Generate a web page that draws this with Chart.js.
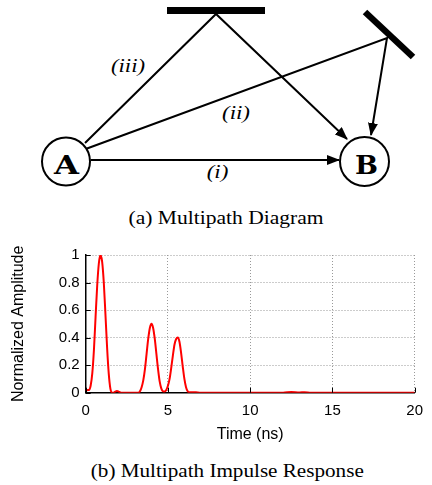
<!DOCTYPE html>
<html>
<head>
<meta charset="utf-8">
<script src="https://cdn.jsdelivr.net/npm/chart.js@4.4.1/dist/chart.umd.min.js"></script>
<style>
  html, body { margin: 0; padding: 0; background: #fff; }
  #wrap { position: relative; width: 432px; height: 485px; overflow: hidden; }
  #diagram { position: absolute; left: 0; top: 0; }
  #myChart { position: absolute; left: 0; top: 240px; }
  .node { font-family: "DejaVu Serif", "Liberation Mono", serif; font-weight: bold; font-size: 26px; }
  .path-label { font-family: "Liberation Serif", "Times New Roman", serif; font-style: italic; font-size: 19px; }
  .caption { font-family: "Liberation Serif", "Times New Roman", serif; font-size: 19px; }
</style>
</head>
<body>
<div id="wrap">
  <svg id="diagram" width="432" height="485" xmlns="http://www.w3.org/2000/svg">
    <defs>
      <marker id="head" markerWidth="13" markerHeight="10" refX="12" refY="5" orient="auto" markerUnits="userSpaceOnUse">
        <path d="M0,0 L13,5 L0,10 z" fill="#000"/>
      </marker>
    </defs>
    <!-- reflectors -->
    <rect x="167" y="7" width="98" height="7" fill="#000"/>
    <line x1="365" y1="12" x2="413" y2="57" stroke="#000" stroke-width="6.5"/>
    <!-- paths -->
    <g stroke="#000" stroke-width="2" fill="none">
      <line x1="90.5" y1="160" x2="339" y2="160" marker-end="url(#head)"/>
      <polyline points="87,148.5 387,38 371,135" marker-end="url(#head)"/>
      <polyline points="85,143 216,14 347,139" marker-end="url(#head)"/>
      <circle cx="66" cy="161.5" r="24"/>
      <circle cx="364.5" cy="161.5" r="24.5"/>
    </g>
    <g text-anchor="middle">
      <text class="node" x="66.5" y="173.5" textLength="25" lengthAdjust="spacingAndGlyphs">A</text>
      <text class="node" x="366.5" y="174" textLength="23" lengthAdjust="spacingAndGlyphs">B</text>
      <text class="path-label" x="128" y="72" textLength="34" lengthAdjust="spacingAndGlyphs">(iii)</text>
      <text class="path-label" x="236" y="118.5" textLength="28" lengthAdjust="spacingAndGlyphs">(ii)</text>
      <text class="path-label" x="217.5" y="177.5" textLength="21.6" lengthAdjust="spacingAndGlyphs">(i)</text>
      <text class="caption" x="226" y="224" textLength="195" lengthAdjust="spacingAndGlyphs">(a) Multipath Diagram</text>
      <text class="caption" x="227.3" y="477" textLength="273" lengthAdjust="spacingAndGlyphs">(b) Multipath Impulse Response</text>
    </g>
  </svg>
  <canvas id="myChart" width="432" height="210"></canvas>
</div>
<script>
// time axis samples (ns) and normalized amplitude
let times = [
  0.0, 0.1, 0.2, 0.3, 0.4, 0.5, 0.6, 0.7, 0.8, 0.9,
  1.0, 1.1, 1.2, 1.3, 1.4, 1.5, 1.6, 1.7, 1.8, 1.9,
  2.0, 2.1, 2.2, 2.4, 2.6, 2.8, 3.0, 3.2, 3.3, 3.4,
  3.5, 3.6, 3.7, 3.8, 3.9, 4.0, 4.1, 4.2, 4.3, 4.4,
  4.5, 4.6, 4.7, 4.8, 4.9, 5.0, 5.1, 5.2, 5.3, 5.4,
  5.5, 5.6, 5.7, 5.8, 5.9, 6.0, 6.1, 6.2, 6.3, 6.5,
  6.7, 7.0, 8.0, 9.0, 10.0, 11.0, 12.0, 12.5, 13.0, 13.3,
  13.7, 15.0, 16.0, 17.0, 18.0, 19.0, 20.0
];
let amplitude = [
  0.01, 0.02, 0.02, 0.05, 0.14, 0.31, 0.55, 0.78, 0.94, 1.00,
  0.95, 0.80, 0.57, 0.33, 0.14, 0.03, 0.0, 0.0, 0.008, 0.012,
  0.008, 0.002, 0.0, 0.0, 0.0, 0.0, 0.0, 0.0, 0.01, 0.04,
  0.09, 0.17, 0.28, 0.39, 0.47, 0.50, 0.47, 0.39, 0.28, 0.17,
  0.08, 0.03, 0.01, 0.008, 0.02, 0.05, 0.10, 0.18, 0.27, 0.35,
  0.39, 0.40, 0.37, 0.29, 0.19, 0.10, 0.04, 0.01, 0.003, 0.004,
  0.003, 0.0, 0.0, 0.0, 0.0, 0.0, 0.0, 0.005, 0.002, 0.004,
  0.0, 0.0, 0.0, 0.0, 0.0, 0.0, 0.0
];
let xTickStep = 5;
let yTickStep = 0.2;

let points = times.map((t, i) => ({ x: t, y: amplitude[i] }));

// short inward tick marks on the left and bottom axes
const innerTicks = {
  id: 'innerTicks',
  afterDraw(chart) {
    const { ctx, chartArea, scales } = chart;
    ctx.save();
    ctx.strokeStyle = '#000';
    ctx.lineWidth = 1;
    ctx.beginPath();
    scales.x.ticks.forEach(t => {
      let px = Math.round(scales.x.getPixelForValue(t.value)) + 0.5;
      ctx.moveTo(px, chartArea.bottom);
      ctx.lineTo(px, chartArea.bottom - 5);
    });
    scales.y.ticks.forEach(t => {
      let py = Math.round(scales.y.getPixelForValue(t.value)) + 0.5;
      ctx.moveTo(chartArea.left, py);
      ctx.lineTo(chartArea.left + 5, py);
    });
    ctx.stroke();
    ctx.restore();
  }
};

let ctx = document.getElementById('myChart').getContext('2d');
let myChart = new Chart(ctx, {
  type: 'line',
  data: {
    datasets: [{
      data: points,
      borderColor: '#ff0000',
      borderWidth: 2,
      pointRadius: 0,
      fill: false,
      cubicInterpolationMode: 'monotone'
    }]
  },
  options: {
    responsive: false,
    animation: false,
    devicePixelRatio: 1,
    layout: { padding: { left: 9.4, right: 10, top: 12.7, bottom: 5.9 } },
    plugins: { legend: { display: false }, tooltip: { enabled: false } },
    scales: {
      x: {
        type: 'linear',
        min: 0,
        max: 20,
        ticks: {
          stepSize: xTickStep,
          color: '#000',
          padding: 9,
          maxRotation: 0,
          font: { family: "'Liberation Sans', Arial, sans-serif", size: 15 }
        },
        grid: { color: '#999', lineWidth: 1, drawTicks: false },
        border: { display: true, color: '#000', width: 1.5, dash: [1, 2] },
        title: {
          display: true,
          text: 'Time (ns)',
          color: '#000',
          padding: 0,
          font: { family: "'Liberation Sans', Arial, sans-serif", size: 16 }
        },
        afterFit(scale) { scale.height = 51.4; }
      },
      y: {
        min: 0,
        max: 1,
        ticks: {
          stepSize: yTickStep,
          color: '#000',
          padding: 6,
          font: { family: "'Liberation Sans', Arial, sans-serif", size: 15 },
          callback: v => String(Math.round(v * 10) / 10)
        },
        grid: { color: '#999', lineWidth: 1, drawTicks: false },
        border: { display: true, color: '#000', width: 1.5, dash: [1, 2] },
        title: {
          display: true,
          text: 'Normalized Amplitude',
          color: '#000',
          padding: 0,
          font: { family: "'Liberation Sans', Arial, sans-serif", size: 16 }
        },
        afterFit(scale) { scale.width = 76.3; }
      }
    }
  },
  plugins: [innerTicks]
});
</script>
</body>
</html>
